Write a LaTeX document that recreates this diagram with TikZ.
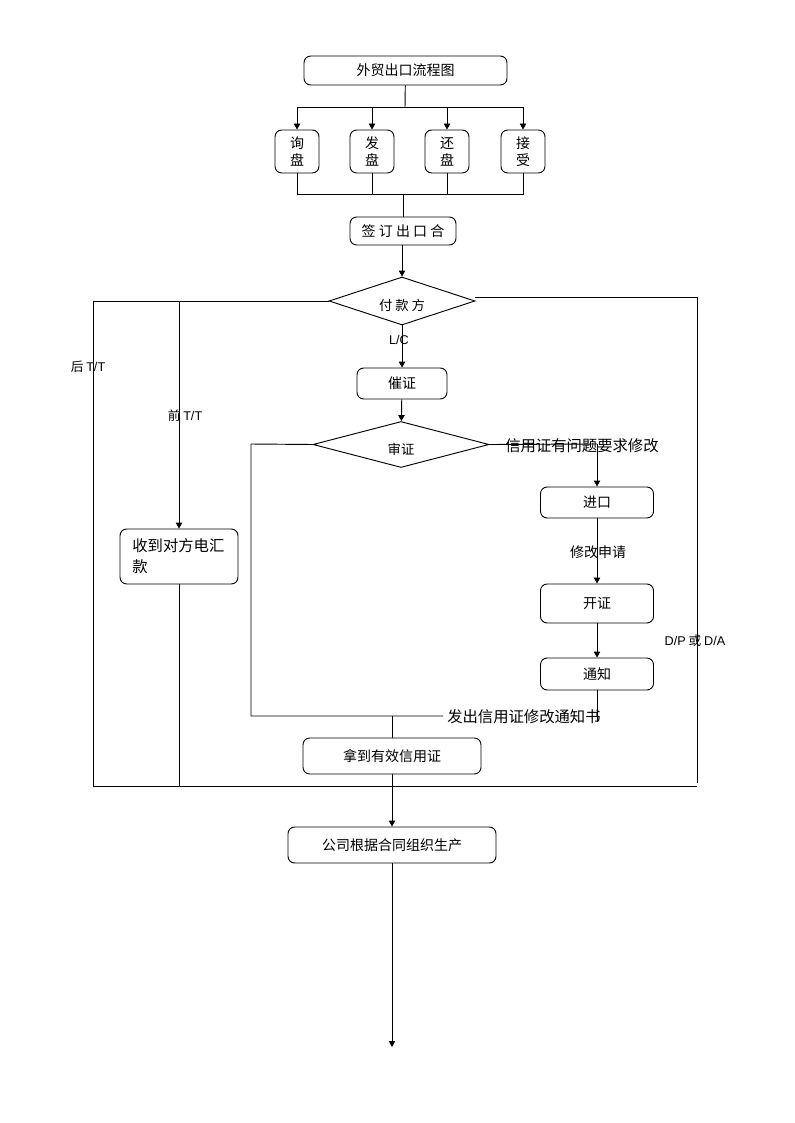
\documentclass[tikz,border=0pt]{standalone}
\usepackage{fontspec}
\setmainfont{Noto Sans CJK SC}
\newfontfamily\latinsans{Liberation Sans}
\usetikzlibrary{arrows.meta,shapes.geometric}
\tikzset{
  box/.style={draw, line width=0.7pt, rounded corners=5pt, inner sep=0pt, font=\fontsize{10.5}{13}\selectfont},
  dia/.style={draw, line width=0.7pt, diamond, inner sep=0pt, font=\fontsize{9}{11}\selectfont},
  ln/.style={line width=0.7pt},
  arr/.style={line width=0.7pt, -{Triangle[length=4.5pt,width=4.8pt]}},
  lbl/.style={inner sep=0pt, font=\fontsize{11.5}{14}\selectfont},
  slbl/.style={inner sep=0pt, font=\fontsize{9.5}{11}\selectfont},
}
\begin{document}
\begin{tikzpicture}[x=0.75pt,y=-0.75pt]
\useasboundingbox (0,0) rectangle (794,1123);
% boxes
\node[box, minimum width={203*0.75pt}, minimum height={29*0.75pt}] (title) at (405.5,70.5) {外贸出口流程图};
\node[box, minimum width={44*0.75pt}, minimum height={43*0.75pt}, align=center] (xun) at (297,151.5) {询\\盘};
\node[box, minimum width={44*0.75pt}, minimum height={43*0.75pt}, align=center] (fa) at (372,151.5) {发\\盘};
\node[box, minimum width={44*0.75pt}, minimum height={43*0.75pt}, align=center] (huan) at (447,151.5) {还\\盘};
\node[box, minimum width={44*0.75pt}, minimum height={43*0.75pt}, align=center] (jie) at (523,151.5) {接\\受};
\node[box, minimum width={106*0.75pt}, minimum height={28*0.75pt}] (sign) at (403,231) {签 订 出 口 合};
\node[dia, minimum width={146*0.75pt}, minimum height={48*0.75pt}] (pay) at (402,301) {};
\node[inner sep=0pt, font=\fontsize{10}{12}\selectfont] (paytxt) at (402,305) {付 款 方};
\node[box, minimum width={90*0.75pt}, minimum height={31*0.75pt}] (cui) at (402,383.5) {催证};
\node[dia, minimum width={176*0.75pt}, minimum height={46*0.75pt}] (shen) at (401,444.5) {};
\node[inner sep=0pt, font=\fontsize{10}{12}\selectfont] (shentxt) at (401,449) {审证};
\node[box, minimum width={113*0.75pt}, minimum height={31*0.75pt}] (jinkou) at (597,502.5) {进口};
\node[box, minimum width={113*0.75pt}, minimum height={39*0.75pt}] (kai) at (597,603.5) {开证};
\node[box, minimum width={113*0.75pt}, minimum height={32*0.75pt}] (tong) at (597,674) {通知};
\node[box, minimum width={178*0.75pt}, minimum height={36*0.75pt}] (nadao) at (392,756) {拿到有效信用证};
\node[box, minimum width={208*0.75pt}, minimum height={36*0.75pt}] (gongsi) at (392,845) {公司根据合同组织生产};
\node[box, minimum width={118*0.75pt}, minimum height={55*0.75pt}, inner xsep=9pt, text width=70pt, align=left, font=\fontsize{11.5}{15.75}\selectfont] (shou) at (179,556.5) {收到对方电汇\\款};
% coordinates
\coordinate (tb) at (405,107);
\coordinate (bb) at (403,194);
\coordinate (ll) at (93,301);
\coordinate (lb) at (93,786);
\coordinate (rb) at (697,786);
\coordinate (rt) at (697,297);
\coordinate (re) at (697,783);
\coordinate (qt) at (179,301);
\coordinate (qb) at (179,786);
\coordinate (sl) at (251,444);
\coordinate (slb) at (251,716);
\coordinate (sle) at (443,716);
\coordinate (nt) at (392,716);
\coordinate (tongend) at (597,722);
\coordinate (sr) at (597,444);
\coordinate (fin) at (392,1047);
% connectors
\draw[ln] (title) -- (tb);
\draw[ln] (xun.north |- tb) -- (jie.north |- tb);
\draw[arr] (tb) -| (xun);
\draw[arr] (tb) -| (fa);
\draw[arr] (tb) -| (huan);
\draw[arr] (tb) -| (jie);
\draw[ln] (xun) |- (bb);
\draw[ln] (fa) |- (bb);
\draw[ln] (huan) |- (bb);
\draw[ln] (jie) |- (bb);
\draw[ln] (bb) -- (sign.north -| bb);
\draw[arr] (sign.south -| pay) -- (pay);
\draw[ln] (pay.west) -- (ll) -- (lb) -- (rb);
\draw[ln] ([yshift=3pt]pay.east) -- (rt) -- (re);
\draw[arr] (qt) -- (shou);
\draw[ln] (shou) -- (qb);
\draw[arr] (pay) -- (cui);
\draw[arr] (cui) -- (shen);
\draw[ln] (shen.west) -- (sl) -- (slb) -- (sle);
\draw[ln] (shen.east) -- (sr);
\draw[arr] (sr) -- (jinkou);
\draw[arr] (jinkou) -- (kai);
\draw[arr] (kai) -- (tong);
\draw[ln] (tong) -- (tongend);
\draw[ln] (nt) -- (nadao);
\draw[arr] (nadao) -- (gongsi);
\draw[arr] (gongsi) -- (fin);
% labels
\node[slbl] (lc) at (399,340) {\latinsans L/C};
\node[slbl] (hou) at (88,367) {后 {\latinsans T/T}};
\node[slbl] (qian) at (185,416) {前 {\latinsans T/T}};
\node[slbl] (dpda) at (695,641) {{\latinsans D/P} 或 {\latinsans D/A}};
\node[lbl, anchor=west] (wenti) at (505,446) {信用证有问题要求修改};
\node[lbl, anchor=west] (fachu) at (447,717) {发出信用证修改通知书};
\node[lbl, font=\fontsize{10.5}{13}\selectfont] (xiugai) at (598,552) {修改申请};
\end{tikzpicture}
\end{document}
